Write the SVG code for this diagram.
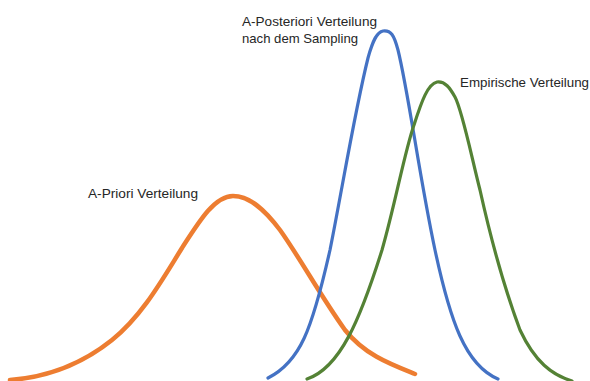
<svg xmlns="http://www.w3.org/2000/svg" width="590" height="381" viewBox="0 0 590 381">
<style>
.c{fill:none;stroke-linecap:round;stroke-linejoin:round}
.t{font-family:"Liberation Sans",Arial,sans-serif;font-size:13px;fill:#262626}
</style>
<rect width="590" height="381" fill="#ffffff"/>
<g id="connectors">
<path id="prior" class="c" stroke="#ED7D31" stroke-width="4.5" d="M10,380 C50,377 82,364 112,340 C142,316 162,280 182,248 C200,220 215,196 233,196 C250,196 265,210 280,230 C300,258 320,295 345,330 C365,355 390,364 415,374"/>
<path id="posterior" class="c" stroke="#4472C4" stroke-width="3.2" d="M268,378 C300,362 312,330 330,250 C342,190 355,110 368,58 C373,40 377,32 383,31 C391,30 394,35 398,50 C408,90 420,180 435,250 C450,320 465,365 498,379"/>
<path id="empirical" class="c" stroke="#548235" stroke-width="3.2" d="M307,379 C340,368 360,320 382,250 C395,205 405,150 414,125 C422,100 428,84 437,82 C445,81 450,88 455,97 C462,110 470,150 480,190 C490,235 505,290 520,330 C535,362 552,375 572,381"/>
</g>
<g id="label-posterior">
<text class="t" x="242" y="26" textLength="135" lengthAdjust="spacingAndGlyphs">A-Posteriori Verteilung</text>
<text class="t" x="242" y="43" textLength="116" lengthAdjust="spacingAndGlyphs">nach dem Sampling</text>
</g>
<g id="label-empirical">
<text class="t" x="460" y="87" textLength="129" lengthAdjust="spacingAndGlyphs">Empirische Verteilung</text>
</g>
<g id="label-prior">
<text class="t" x="88" y="198" textLength="110" lengthAdjust="spacingAndGlyphs">A-Priori Verteilung</text>
</g>
</svg>
